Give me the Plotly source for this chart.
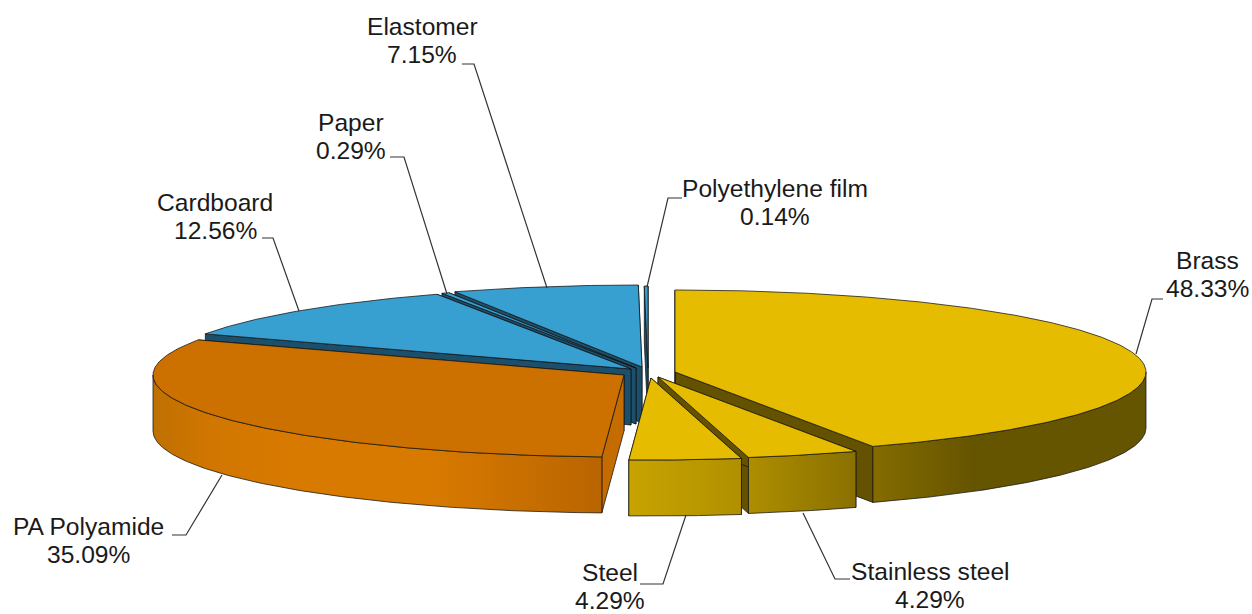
import numpy as np
import plotly.graph_objects as go

# ---- data
materials = ["Brass", "Stainless steel", "Steel", "PA Polyamide", "Cardboard", "Paper", "Elastomer", "Polyethylene film"]
percent = [48.33, 4.29, 4.29, 35.09, 12.56, 0.29, 7.15, 0.14]

# ---- styling / layout
W, H = 1252, 614
RX, RY, DEPTH = 471, 82, 56
apex = {"Brass": (675, 372), "Stainless steel": (658, 377), "Steel": (651, 378), "PA Polyamide": (624, 375),
        "Cardboard": (631, 369), "Paper": (636, 368), "Elastomer": (642, 367), "Polyethylene film": (648, 368)}
top_col = {"Brass": "#E5BC00", "Stainless steel": "#E5BC00", "Steel": "#E5BC00", "PA Polyamide": "#CC7000",
           "Cardboard": "#38A0D0", "Paper": "#38A0D0", "Elastomer": "#38A0D0", "Polyethylene film": "#38A0D0"}
face_col = {"Brass": "#655200", "Stainless steel": "#655200", "Steel": "#655200", "PA Polyamide": "#C46C00",
            "Cardboard": "#1C4F6C", "Paper": "#1C4F6C", "Elastomer": "#1C4F6C", "Polyethylene film": "#1C4F6C"}
yellow_grad = dict(start=628, stop=1146, colorscale=[[0, "#C8A400"], [0.218, "#B09000"], [0.438, "#8A7000"], [0.67, "#655400"], [1, "#655400"]])
orange_grad = dict(start=154, stop=605, colorscale=[[0, "#BE7000"], [0.12, "#D07600"], [0.3, "#D87A00"], [0.62, "#D87A00"], [1, "#B86400"]])
blue_grad = dict(start=154, stop=1146, colorscale=[[0, "#1C4F6C"], [1, "#1C4F6C"]])
wall_grad = {"Brass": yellow_grad, "Stainless steel": yellow_grad, "Steel": yellow_grad, "PA Polyamide": orange_grad,
             "Cardboard": blue_grad, "Paper": blue_grad, "Elastomer": blue_grad, "Polyethylene film": blue_grad}
draw_order = ["Polyethylene film", "Elastomer", "Paper", "Cardboard", "PA Polyamide", "Brass", "Stainless steel", "Steel"]
EDGE = dict(color="rgba(20,20,20,0.85)", width=0.9)

# label text lines: centre positions and leader polylines
label_pos = {"Brass": (1207, 260), "Stainless steel": (930, 571), "Steel": (610, 572), "PA Polyamide": (88, 526),
             "Cardboard": (215, 202), "Paper": (351, 122), "Elastomer": (422, 26), "Polyethylene film": (775, 188)}
leaders = {"Brass": [(1163, 299), (1152, 299), (1136, 354)], "Stainless steel": [(850, 579), (835, 579), (803, 513)],
           "Steel": [(640, 584), (663, 584), (686, 515)], "PA Polyamide": [(172, 535), (186, 535), (222, 475)],
           "Cardboard": [(262, 238), (273, 238), (299, 311)], "Paper": [(390, 157), (404, 157), (447, 294)],
           "Elastomer": [(462, 64), (474, 64), (547, 288)], "Polyethylene film": [(682, 198), (668, 198), (647, 287)]}
LINE_GAP = 28

# ---- slice angles come from the values
total = sum(percent)
ends = np.cumsum(percent) / total * 360
starts = np.concatenate([[0], ends[:-1]])
span = {m: (s, e) for m, s, e in zip(materials, starts, ends)}


def rim(m, a0, a1, dy=0):
    n = max(2, int(abs(a1 - a0) * 2))
    t = np.radians(np.linspace(a0, a1, n))
    ax, ay = apex[m]
    return ax + RX * np.sin(t), ay - RY * np.cos(t) + dy


fig = go.Figure()


def poly(x, y, color=None, grad=None):
    kw = dict(x=np.append(x, x[0]), y=np.append(y, y[0]), mode="lines", fill="toself", line=EDGE,
              hoverinfo="skip", showlegend=False)
    if grad is not None:
        kw["fillgradient"] = dict(type="horizontal", **grad)
    else:
        kw["fillcolor"] = color
    fig.add_trace(go.Scatter(**kw))


for m in draw_order:
    a0, a1 = span[m]
    ax, ay = apex[m]
    # radial faces
    for a in (a1, a0):
        x, y = rim(m, a, a)
        poly(np.array([ax, x[0], x[0], ax]), np.array([ay, y[0], y[0] + DEPTH, ay + DEPTH]), color=face_col[m])
    # outer wall, front half only
    v0, v1 = max(a0, 90), min(a1, 270)
    if v1 > v0:
        x, y = rim(m, v0, v1)
        xb, yb = rim(m, v1, v0, DEPTH)
        poly(np.concatenate([x, xb]), np.concatenate([y, yb]), grad=wall_grad[m])
    # top
    x, y = rim(m, a0, a1)
    poly(np.concatenate([[ax], x]), np.concatenate([[ay], y]), color=top_col[m])

# leaders and labels
for m, p in zip(materials, percent):
    pts = leaders[m]
    fig.add_trace(go.Scatter(x=[q[0] for q in pts], y=[q[1] for q in pts], mode="lines",
                             line=dict(color="#333333", width=1.2), hoverinfo="skip", showlegend=False))
    lx, ly = label_pos[m]
    for txt, yy in ((m, ly), (f"{p:.2f}%", ly + LINE_GAP)):
        fig.add_annotation(x=lx, y=yy, text=txt, showarrow=False, xanchor="center", yanchor="middle",
                           font=dict(family="Liberation Sans, Arial, sans-serif", size=24.6, color="#1a1a1a"))

fig.update_layout(width=W, height=H, margin=dict(l=0, r=0, t=0, b=0), paper_bgcolor="white", plot_bgcolor="white",
                  showlegend=False,
                  xaxis=dict(range=[0, W], visible=False, fixedrange=True),
                  yaxis=dict(range=[H, 0], visible=False, fixedrange=True))
fig.write_html("out.html", config={"displayModeBar": False},
               post_script="document.body.style.margin='0';document.body.style.overflow='hidden';")
